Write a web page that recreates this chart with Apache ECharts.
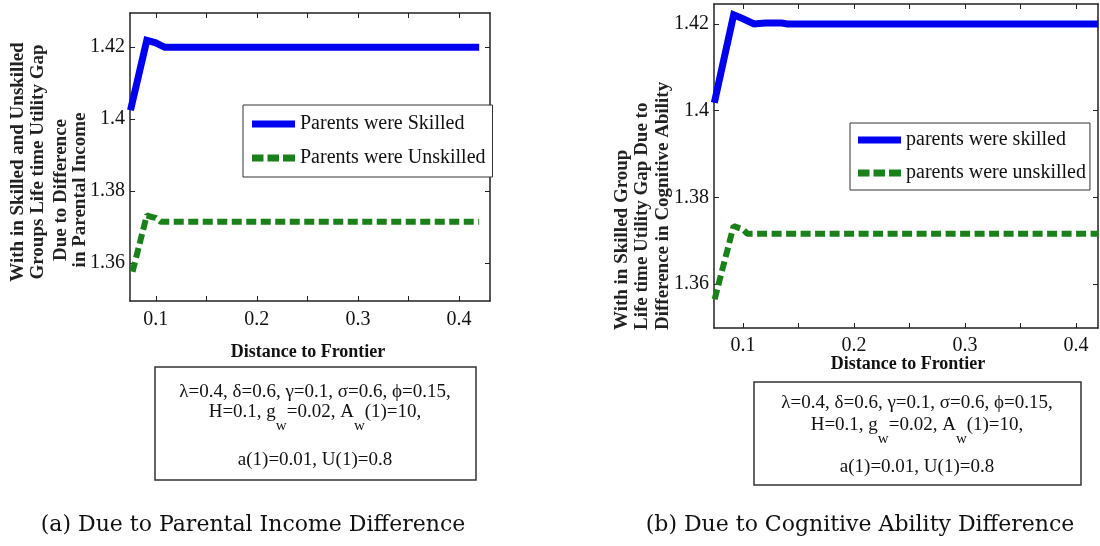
<!DOCTYPE html>
<html><head><meta charset="utf-8">
<script src="https://cdn.jsdelivr.net/npm/echarts@6/dist/echarts.min.js"></script>
<style>html,body{margin:0;padding:0;background:#fff}#c{width:1100px;height:546px}</style>
</head><body><div id="c"></div>
<script>
// ---- Panel (a): Due to Parental Income Difference ----
const distA_skilled   = [0.075, 0.0911, 0.095, 0.100, 0.105, 0.109, 0.20, 0.30, 0.42];
const gapA_skilled    = [1.4025, 1.4219, 1.4216, 1.4212, 1.4205, 1.4200, 1.4200, 1.4200, 1.4200];
const distA_unskilled = [0.077, 0.0911, 0.095, 0.100, 0.105, 0.20, 0.30, 0.42];
const gapA_unskilled  = [1.3576, 1.3733, 1.3729, 1.3726, 1.3715, 1.3715, 1.3715, 1.3715];
// ---- Panel (b): Due to Cognitive Ability Difference ----
const distB_skilled   = [0.0742, 0.0916, 0.100, 0.110, 0.120, 0.135, 0.140, 0.20, 0.30, 0.42];
const gapB_skilled    = [1.4018, 1.4221, 1.4212, 1.4200, 1.4202, 1.4202, 1.4200, 1.4200, 1.4200, 1.4200];
const distB_unskilled = [0.0745, 0.0916, 0.100, 0.104, 0.20, 0.30, 0.42];
const gapB_unskilled  = [1.3565, 1.3734, 1.3726, 1.3716, 1.3716, 1.3716, 1.3716];
// ---- Ticks ----
const xTickValues  = [0.1, 0.15, 0.2, 0.25, 0.3, 0.35, 0.4];
const xLabelValues = [0.1, 0.2, 0.3, 0.4];
const yTickValues  = [1.36, 1.38, 1.40, 1.42];
// ---- Texts ----
const namesA = ['Parents were Skilled', 'Parents were Unskilled'];
const namesB = ['parents were skilled', 'parents were unskilled'];
const xTitle = 'Distance to Frontier';
const yTitleA = ['With in Skilled and Unskilled', 'Groups Life time Utility Gap', 'Due to Difference', 'in Parental Income'];
const yTitleB = ['With in Skilled Group', 'Life time Utility Gap Due to', 'Difference in Cognitive Ability'];
const captionA = '(a) Due to Parental Income Difference';
const captionB = '(b) Due to Cognitive Ability Difference';
const paramLine1 = 'λ=0.4, δ=0.6, γ=0.1, σ=0.6, ϕ=0.15,';
const paramLine2 = '{m|H=0.1, g}{s|w}{m|=0.02, A}{s|w}{m|(1)=10,}';
const paramLine3 = 'a(1)=0.01, U(1)=0.8';

const SERIF = "'Liberation Serif','Times New Roman',serif";
const BLUE = '#0000f0', GREEN = '#1a801a', AXC = '#222';
const ICON_SOLID  = 'path://M0,0H43V7H0Z';
const ICON_DASHED = 'path://M0,0H11.5V7H0Z M15.5,0H27V7H15.5Z M31,0H43V7H31Z';
const pairs = (xs, ys) => xs.map((x, i) => [x, ys[i]]);
const fmt = v => String(+(+v).toFixed(2));

function xAx(gi, pos, min, max, lbl, margin) {
  return { type: 'value', gridIndex: gi, position: pos, min, max,
    axisLine: { show: true, onZero: false, lineStyle: { color: AXC, width: 1.5 } },
    axisTick: { show: true, inside: true, length: 5, customValues: xTickValues, lineStyle: { color: AXC, width: 1 } },
    axisLabel: { show: lbl, customValues: xLabelValues, margin, formatter: fmt,
      fontFamily: SERIF, fontSize: 20, color: '#111' },
    splitLine: { show: false } };
}
function yAx(gi, pos, min, max, lbl) {
  return { type: 'value', gridIndex: gi, position: pos, min, max,
    axisLine: { show: true, onZero: false, lineStyle: { color: AXC, width: 1.5 } },
    axisTick: { show: true, inside: true, length: 5, customValues: yTickValues, lineStyle: { color: AXC, width: 1 } },
    axisLabel: { show: lbl, customValues: yTickValues, margin: 5, formatter: fmt,
      fontFamily: SERIF, fontSize: 20, color: '#111' },
    splitLine: { show: false } };
}
function solid(name, xi, data) {
  return { type: 'line', name, xAxisIndex: xi, yAxisIndex: xi, data, symbol: 'none', showSymbol: false,
    animation: false, lineStyle: { color: BLUE, width: 7, cap: 'butt', join: 'miter' }, itemStyle: { color: BLUE } };
}
function dashed(name, xi, data) {
  return { type: 'line', name, xAxisIndex: xi, yAxisIndex: xi, data, symbol: 'none', showSymbol: false,
    animation: false, lineStyle: { color: GREEN, width: 6, type: [10, 4.5], cap: 'butt' }, itemStyle: { color: GREEN } };
}
function legend(names, left, top, pad, gap) {
  return { data: [{ name: names[0], icon: ICON_SOLID }, { name: names[1], icon: ICON_DASHED }],
    left, top, orient: 'vertical', padding: pad, itemGap: gap,
    itemWidth: 43, itemHeight: 7, itemTextGap: 2, backgroundColor: '#fff',
    borderColor: '#333', borderWidth: 1, borderRadius: 0, selectedMode: false,
    textStyle: { fontFamily: SERIF, fontSize: 20, color: '#111', lineHeight: 20 } };
}
function rotText(t, x, y, align) {
  return { type: 'text', x, y, rotation: Math.PI / 2, silent: true,
    style: { text: t, fontFamily: SERIF, fontWeight: 'bold', fontSize: 19, fill: '#222',
      textAlign: align, textVerticalAlign: 'middle' } };
}
function txt(t, x, y, size, weight, family) {
  return { type: 'text', x, y, silent: true,
    style: { text: t, fontFamily: family || SERIF, fontWeight: weight || 'normal', fontSize: size, fill: '#111',
      textAlign: 'center', textVerticalAlign: 'middle' } };
}
function richTxt(t, x, y) {
  return { type: 'text', x, y, silent: true,
    style: { text: t, textAlign: 'center', textVerticalAlign: 'middle',
      rich: { m: { fontFamily: SERIF, fontSize: 19, fill: '#111', verticalAlign: 'top', lineHeight: 22 },
              s: { fontFamily: SERIF, fontSize: 15, fill: '#111', verticalAlign: 'top', lineHeight: 22, padding: [16, 0, 0, 0] } } } };
}
function box(x, y, w, h) {
  return { type: 'rect', shape: { x, y, width: w, height: h }, silent: true,
    style: { fill: '#fff', stroke: '#333', lineWidth: 1.5 } };
}

const graphics = [
  rotText(yTitleA[0], 18, 162, 'center'),
  rotText(yTitleA[1], 38, 162, 'center'),
  rotText(yTitleA[2], 61, 190, 'center'),
  rotText(yTitleA[3], 80, 190, 'center'),
  rotText(yTitleB[0], 622, 330, 'left'),
  rotText(yTitleB[1], 642, 330, 'left'),
  rotText(yTitleB[2], 663, 330, 'left'),
  txt(xTitle, 308, 352, 18, 'bold'),
  txt(xTitle, 908, 364, 18, 'bold'),
  box(155, 367, 321, 113),
  txt(paramLine1, 315, 392, 19),
  richTxt(paramLine2, 315, 414),
  txt(paramLine3, 315, 460, 19),
  box(754, 382, 327, 103),
  txt(paramLine1, 917, 403, 19),
  richTxt(paramLine2, 917, 427),
  txt(paramLine3, 917, 467, 19),
  txt(captionA, 253, 525, 22, 'normal', "'DejaVu Serif',serif"),
  txt(captionB, 860, 525, 22, 'normal', "'DejaVu Serif',serif")
];

const chart = echarts.init(document.getElementById('c'), null, { renderer: 'canvas' });
chart.setOption({
  animation: false,
  backgroundColor: '#fff',
  grid: [
    { left: 130, top: 13, width: 360, height: 288, show: false },
    { left: 714, top: 4, width: 384, height: 324, show: false }
  ],
  xAxis: [
    xAx(0, 'bottom', 0.0745, 0.4307, true, 9),
    xAx(0, 'top', 0.0745, 0.4307, false, 9),
    xAx(1, 'bottom', 0.0739, 0.4198, true, 8),
    xAx(1, 'top', 0.0739, 0.4198, false, 8)
  ],
  yAxis: [
    yAx(0, 'left', 1.3495, 1.4295, true),
    yAx(0, 'right', 1.3495, 1.4295, false),
    yAx(1, 'left', 1.34985, 1.42461, true),
    yAx(1, 'right', 1.34985, 1.42461, false)
  ],
  legend: [
    legend(namesA, 243, 105, [9, 7, 9, 9], 14),
    legend(namesB, 850, 123, [7, 4, 7, 8], 13)
  ],
  series: [
    solid(namesA[0], 0, pairs(distA_skilled, gapA_skilled)),
    dashed(namesA[1], 0, pairs(distA_unskilled, gapA_unskilled)),
    solid(namesB[0], 2, pairs(distB_skilled, gapB_skilled)),
    dashed(namesB[1], 2, pairs(distB_unskilled, gapB_unskilled))
  ],
  graphic: graphics
});
</script>
</body></html>
